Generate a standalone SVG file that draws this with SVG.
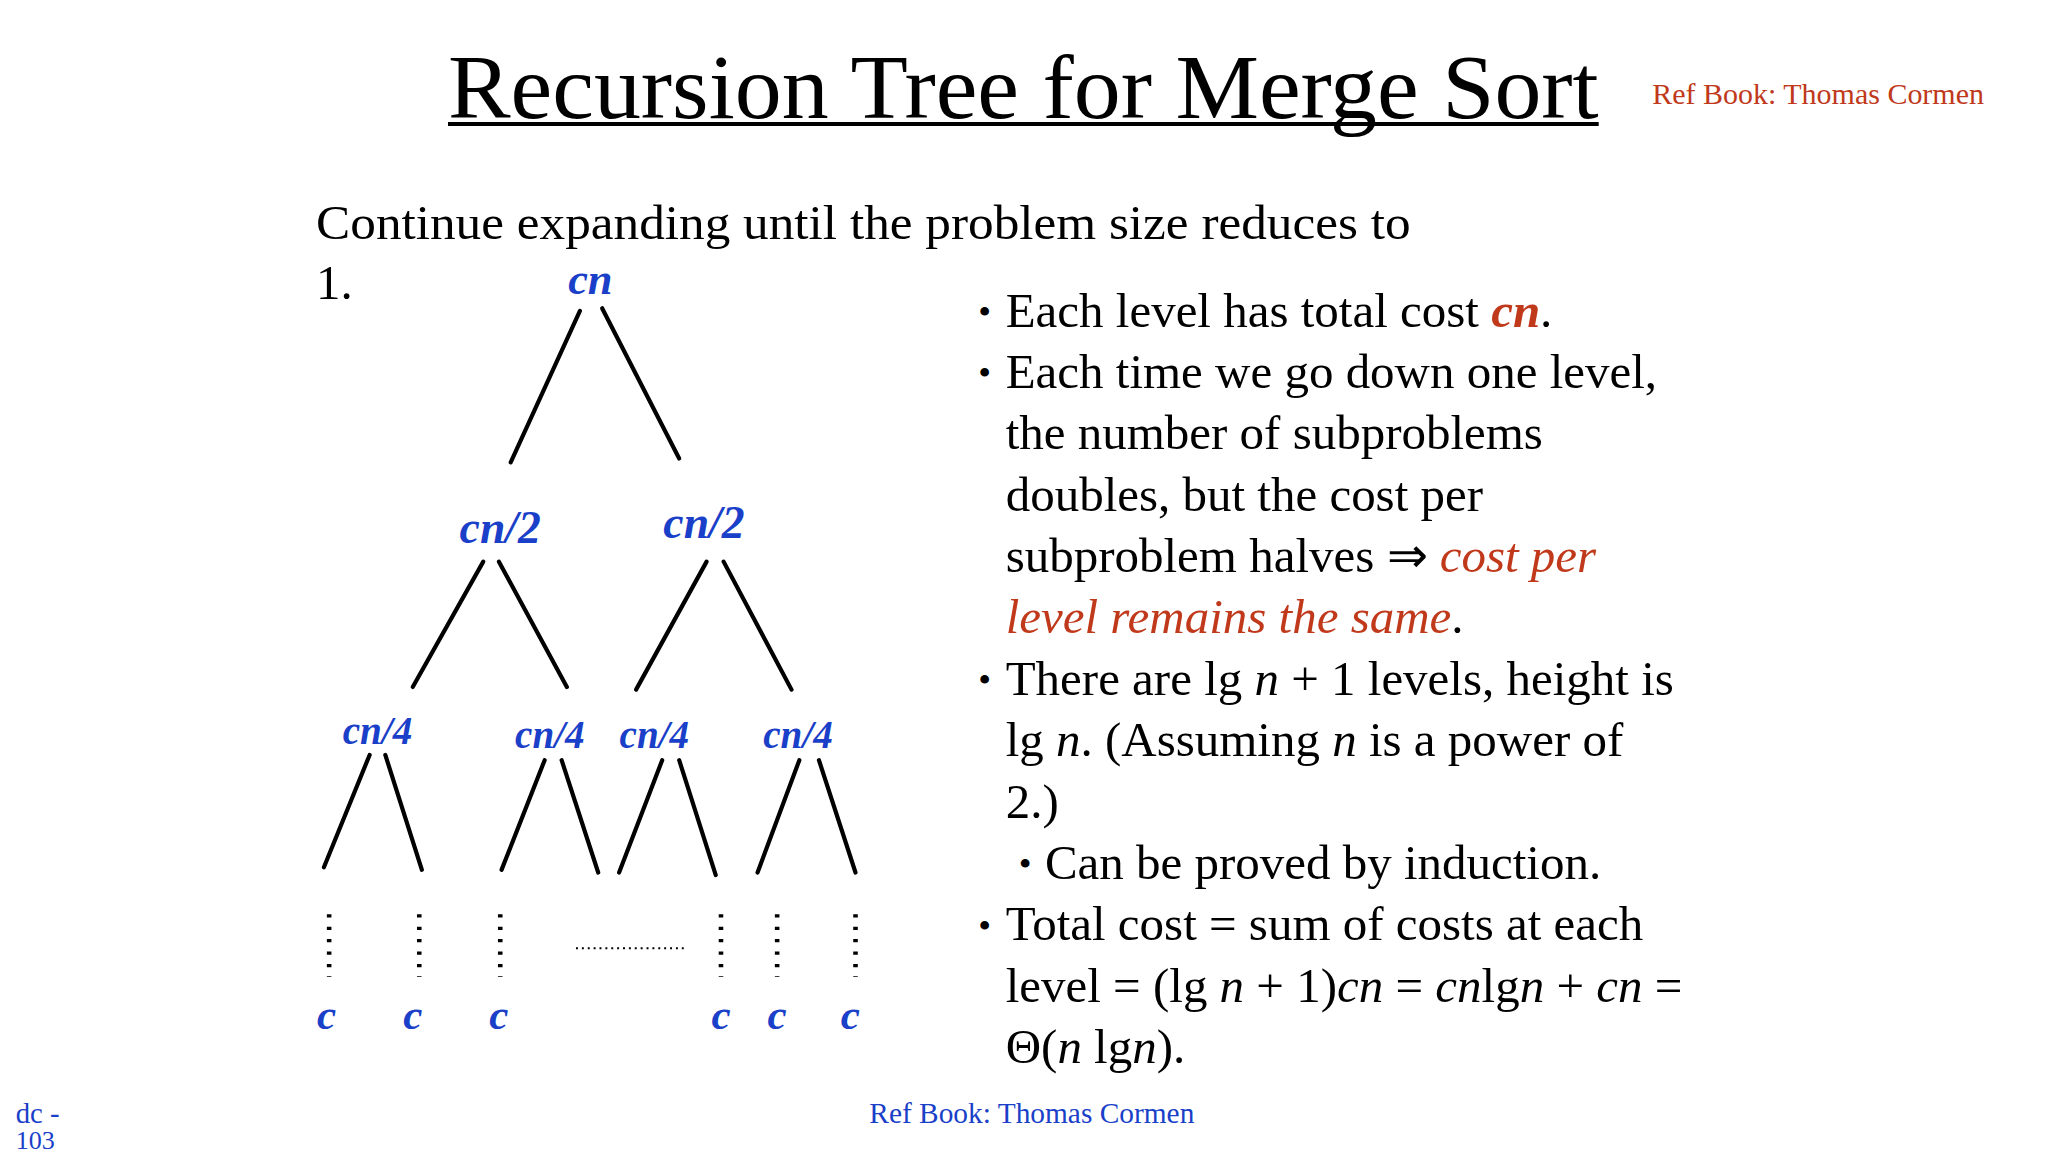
<svg xmlns="http://www.w3.org/2000/svg" width="2048" height="1152" viewBox="0 0 2048 1152">
<style>
text{font-family:"Liberation Serif","Times New Roman",serif;fill:#000}
.n{font-weight:bold;font-style:italic;fill:#1a3fc8;text-anchor:middle}
.b{font-size:37.5px}
.bl{font-size:28px}
.r{fill:#c0391b}
.e{stroke:#000;stroke-width:3.2;fill:none;stroke-linecap:round}
.d{stroke:#000;stroke-width:3.5;stroke-dasharray:2.5 7;fill:none}
</style>
<rect width="2048" height="1152" fill="#fff"/>
<g transform="scale(1.30612)">
<g id="title">
<text x="343" y="90" font-size="70" textLength="881" lengthAdjust="spacingAndGlyphs">Recursion Tree for Merge Sort</text>
<line x1="343" y1="95" x2="1224" y2="95" stroke="#000" stroke-width="3"/>
<text x="1265" y="80" font-size="22.5" style="fill:#c0391b" textLength="254" lengthAdjust="spacingAndGlyphs">Ref Book: Thomas Cormen</text>
</g>
<g id="intro">
<text x="242" y="183" class="b" textLength="838" lengthAdjust="spacingAndGlyphs">Continue expanding until the problem size reduces to</text>
<text x="242" y="229" class="b">1.</text>
</g>
<g id="connectors">
<line class="e" x1="444" y1="238" x2="391" y2="354"/>
<line class="e" x1="461" y1="236" x2="520" y2="351"/>
<line class="e" x1="370" y1="430" x2="316" y2="526"/>
<line class="e" x1="382" y1="430" x2="434" y2="526"/>
<line class="e" x1="541" y1="430" x2="487" y2="528"/>
<line class="e" x1="554" y1="430" x2="606" y2="528"/>
<line class="e" x1="283" y1="578" x2="248" y2="664"/>
<line class="e" x1="295" y1="578" x2="323" y2="666"/>
<line class="e" x1="417" y1="582" x2="384" y2="666"/>
<line class="e" x1="430" y1="582" x2="458" y2="668"/>
<line class="e" x1="507" y1="582" x2="474" y2="668"/>
<line class="e" x1="520" y1="582" x2="548" y2="670"/>
<line class="e" x1="612" y1="582" x2="580" y2="668"/>
<line class="e" x1="627" y1="582" x2="655" y2="668"/>
<line class="d" x1="252" y1="700" x2="252" y2="748"/>
<line class="d" x1="321" y1="700" x2="321" y2="748"/>
<line class="d" x1="383" y1="700" x2="383" y2="748"/>
<line class="d" x1="552" y1="700" x2="552" y2="748"/>
<line class="d" x1="595" y1="700" x2="595" y2="748"/>
<line class="d" x1="655" y1="700" x2="655" y2="748"/>
<line x1="441" y1="726" x2="524" y2="726" stroke="#000" stroke-width="1.5" stroke-dasharray="1.5 3"/>
</g>
<g id="n1"><text class="n" x="452" y="225" font-size="34">cn</text></g>
<g id="n2"><text class="n" x="383" y="416" font-size="35">cn/2</text></g>
<g id="n3"><text class="n" x="539" y="412" font-size="35">cn/2</text></g>
<g id="n4"><text class="n" x="289" y="570" font-size="30">cn/4</text></g>
<g id="n5"><text class="n" x="421" y="573" font-size="30">cn/4</text></g>
<g id="n6"><text class="n" x="501" y="573" font-size="30">cn/4</text></g>
<g id="n7"><text class="n" x="611" y="573" font-size="30">cn/4</text></g>
<g id="leaves">
<text class="n" x="250" y="788" font-size="33">c</text>
<text class="n" x="316" y="788" font-size="33">c</text>
<text class="n" x="382" y="788" font-size="33">c</text>
<text class="n" x="552" y="788" font-size="33">c</text>
<text class="n" x="595" y="788" font-size="33">c</text>
<text class="n" x="651" y="788" font-size="33">c</text>
</g>
<g id="bullets">
<text x="749" y="248" class="bl">•</text>
<text x="770" y="250" class="b">Each level has total cost <tspan style="fill:#c0391b;font-weight:bold;font-style:italic">cn</tspan>.</text>
<text x="749" y="295" class="bl">•</text>
<text x="770" y="297" class="b">Each time we go down one level,</text>
<text x="770" y="344" class="b">the number of subproblems</text>
<text x="770" y="391" class="b">doubles, but the cost per</text>
<text x="770" y="438" class="b">subproblem halves  ⇒ <tspan style="fill:#c0391b;font-style:italic">cost per</tspan></text>
<text x="770" y="485" class="b"><tspan style="fill:#c0391b;font-style:italic">level remains the same</tspan>.</text>
<text x="749" y="530" class="bl">•</text>
<text x="770" y="532" class="b">There are lg <tspan font-style="italic">n</tspan> + 1 levels, height is</text>
<text x="770" y="579" class="b">lg <tspan font-style="italic">n</tspan>. (Assuming <tspan font-style="italic">n</tspan> is a power of</text>
<text x="770" y="626" class="b">2.)</text>
<text x="780" y="671" class="bl">•</text>
<text x="800" y="673" class="b">Can be proved by induction.</text>
<text x="749" y="718" class="bl">•</text>
<text x="770" y="720" class="b">Total cost = sum of costs at each</text>
<text x="770" y="767" class="b">level = (lg <tspan font-style="italic">n</tspan> + 1)<tspan font-style="italic">cn</tspan> = <tspan font-style="italic">cn</tspan>lg<tspan font-style="italic">n</tspan> + <tspan font-style="italic">cn</tspan> =</text>
<text x="770" y="814" class="b">Θ(<tspan font-style="italic">n</tspan> lg<tspan font-style="italic">n</tspan>).</text>
</g>
<g id="footer">
<text x="12" y="860" font-size="22" style="fill:#1a3fc8">dc -</text>
<text x="12" y="880" font-size="20" style="fill:#1a3fc8">103</text>
<text x="790" y="860" font-size="22.5" text-anchor="middle" style="fill:#1a3fc8">Ref Book: Thomas Cormen</text>
</g>
</g>
</svg>
